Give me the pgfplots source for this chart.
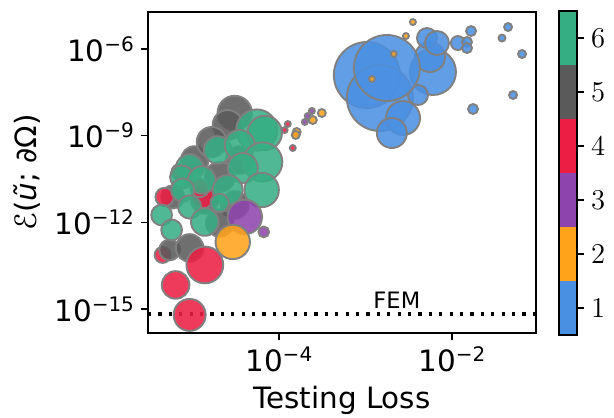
\documentclass[border=0pt]{standalone}
\usepackage{fontspec}
\setmainfont{DejaVu Sans}
\usepackage{pgfplots}
\usepackage{pgfplotstable}
\pgfplotsset{compat=1.18}
\definecolor{c1}{HTML}{4A90E2}
\definecolor{c2}{HTML}{FFA31A}
\definecolor{c3}{HTML}{8E44AD}
\definecolor{c4}{HTML}{EC1E44}
\definecolor{c5}{HTML}{5A5A5A}
\definecolor{c6}{HTML}{36AE84}
\definecolor{edgegray}{RGB}{128,128,128}
\newcommand\sps[1]{\raisebox{5bp}{\fontsize{10bp}{12bp}\selectfont #1}}

\pgfplotstableread{
x y r c
1.04e-3 1.26e-7 16.5 1
1.47e-3 2.01e-8 16.5 1
6.03e-3 1.60e-7 11.5 1
5.57e-3 5.28e-7 7.5 1
4.05e-3 2.56e-8 5 1
2.72e-3 4.09e-9 8.5 1
2.02e-3 1.24e-9 7.5 1
1.77e-3 2.20e-7 16.5 1
5.14e-3 2.40e-6 5 1
6.71e-3 1.61e-6 6 1
1.17e-2 1.61e-6 3.5 1
1.49e-2 1.75e-6 2.5 1
1.49e-2 1.08e-6 2.5 1
1.66e-2 4.20e-6 2.5 1
4.44e-2 5.77e-6 2 1
3.78e-2 2.40e-6 1.75 1
6.44e-2 6.71e-7 2 1
5.07e-2 2.56e-8 2 1
1.75e-2 8.39e-9 2.5 1
3.54e-3 8.59e-6 1.5 2
2.94e-3 2.82e-6 1.5 2
2.13e-3 6.71e-7 1.5 2
1.19e-3 9.16e-8 1.5 2
3.10e-5 6.10e-9 8.6 5
2.57e-5 2.34e-9 7.5 5
1.07e-5 1.44e-10 6.9 5
3.54e-5 1.44e-10 6.9 5
1.68e-5 6.05e-10 7.5 5
2.08e-5 3.72e-11 7.5 5
1.40e-5 5.96e-12 6.9 5
3.10e-5 4.00e-12 6.9 5
5.96e-6 7.57e-12 5.8 5
4.81e-6 7.57e-12 4.6 4
1.32e-5 7.57e-12 5.8 4
1.22e-5 1.55e-11 4.6 4
7.16e-6 5.55e-11 4 4
4.56e-6 7.45e-14 4 4
6.44e-6 6.82e-15 6.9 4
9.35e-6 6.25e-16 8 4
2.08e-5 9.53e-13 6.9 5
5.50e-6 1.11e-13 5.2 5
5.57e-5 1.57e-9 10.3 6
6.89e-5 1.24e-9 8.6 6
1.97e-5 3.20e-10 6.9 6
3.54e-5 4.76e-10 7.5 6
6.53e-5 1.23e-10 9.8 6
3.84e-5 7.62e-11 7.5 6
9.35e-6 7.62e-11 6.9 6
7.57e-6 3.72e-11 5.8 6
1.29e-5 2.93e-11 6.9 6
2.57e-5 1.32e-11 7.5 6
6.35e-5 1.32e-11 8.6 6
7.76e-6 1.32e-11 5.8 6
2.08e-5 4.69e-12 4.6 6
9.35e-6 3.41e-12 5.8 6
4.44e-6 1.80e-12 5.2 6
1.40e-5 1.03e-12 6.9 6
5.79e-6 5.46e-13 5.2 6
4.05e-5 1.54e-12 8.6 3
6.71e-5 4.66e-13 2.7 3
2.94e-5 2.10e-13 8.6 2
9.35e-6 1.30e-13 6.9 5
1.40e-5 3.36e-14 9.2 4
3.14e-4 6.10e-9 2 2
2.47e-4 3.49e-9 2 2
2.41e-4 7.16e-9 1.5 3
2.16e-4 4.81e-9 1.5 3
2.00e-4 2.98e-9 1.5 3
1.27e-4 2.54e-9 1.5 4
1.17e-4 1.57e-9 1.5 4
1.61e-4 1.34e-9 2 2
1.57e-4 1.06e-9 2 2
1.45e-4 3.75e-10 1.5 4
}\bubbles

\begin{document}
\begin{tikzpicture}
\begin{axis}[
  name=main,
  font=\fontsize{14.7bp}{17.6bp}\selectfont,
  xmode=log, ymode=log,
  width=194bp, height=160.5bp, scale only axis,
  xmin=3.09e-6, xmax=9.33e-2,
  ymin=1.48e-16, ymax=1.91e-5,
  xtick={1e-4,1e-2},
  xticklabels={10\sps{−4},10\sps{−2}},
  ytick={1e-15,1e-12,1e-9,1e-6},
  yticklabels={10\sps{−15},10\sps{−12},10\sps{−9},10\sps{−6}},
  xminorticks=false, yminorticks=false,
  tick align=outside, tick pos=left,
  major tick length=3.5bp,
  every tick/.style={black, line width=0.8bp},
  axis line style={line width=0.9bp},
  xlabel={Testing Loss},
  ylabel={ℰ(\textit{ũ}; ∂Ω)},
  clip=true,
]
\addplot[scatter, only marks, mark=*,
  scatter src=explicit symbolic,
  scatter/classes={
    1={fill=c1,draw=edgegray},
    2={fill=c2,draw=edgegray},
    3={fill=c3,draw=edgegray},
    4={fill=c4,draw=edgegray},
    5={fill=c5,draw=edgegray},
    6={fill=c6,draw=edgegray}},
  mark options={line width=0.95bp, fill opacity=0.87},
  visualization depends on={\thisrow{r} \as \rad},
  scatter/@pre marker code/.append style={/tikz/mark size=\rad bp}]
  table[x=x, y=y, meta=c]{\bubbles};
\addplot[black, line width=1.6bp, dash pattern=on 1.6bp off 3.6bp]
  coordinates {(3.09e-6,6.76e-16) (9.33e-2,6.76e-16)};
\node[font=\fontsize{11.3bp}{13bp}\selectfont] at (axis cs:2.31e-3,2.07e-15) {FEM};
\end{axis}
\begin{axis}[
  name=cb,
  at={(main.south east)}, anchor=south west, xshift=11.5bp, yshift=-1bp,
  font=\fontsize{14.7bp}{17.6bp}\selectfont,
  width=9bp, height=162bp, scale only axis,
  xmin=0, xmax=1, ymin=0.5, ymax=6.5,
  xtick=\empty, ytick={1,2,3,4,5,6},
  yticklabel pos=right, ytick pos=right,
  tick align=outside, major tick length=3.5bp,
  every tick/.style={black, line width=0.8bp},
  axis line style={line width=0.8bp},
  axis on top,
]
\addplot[fill=c1, draw=none] coordinates {(0,0.5) (1,0.5) (1,1.5) (0,1.5) (0,0.5)};
\addplot[fill=c2, draw=none] coordinates {(0,1.5) (1,1.5) (1,2.5) (0,2.5) (0,1.5)};
\addplot[fill=c3, draw=none] coordinates {(0,2.5) (1,2.5) (1,3.5) (0,3.5) (0,2.5)};
\addplot[fill=c4, draw=none] coordinates {(0,3.5) (1,3.5) (1,4.5) (0,4.5) (0,3.5)};
\addplot[fill=c5, draw=none] coordinates {(0,4.5) (1,4.5) (1,5.5) (0,5.5) (0,4.5)};
\addplot[fill=c6, draw=none] coordinates {(0,5.5) (1,5.5) (1,6.5) (0,6.5) (0,5.5)};
\end{axis}
\pgfresetboundingbox
\path ([xshift=-74bp,yshift=-42.5bp]main.south west) rectangle ++(307bp,209bp);
\end{tikzpicture}
\end{document}
